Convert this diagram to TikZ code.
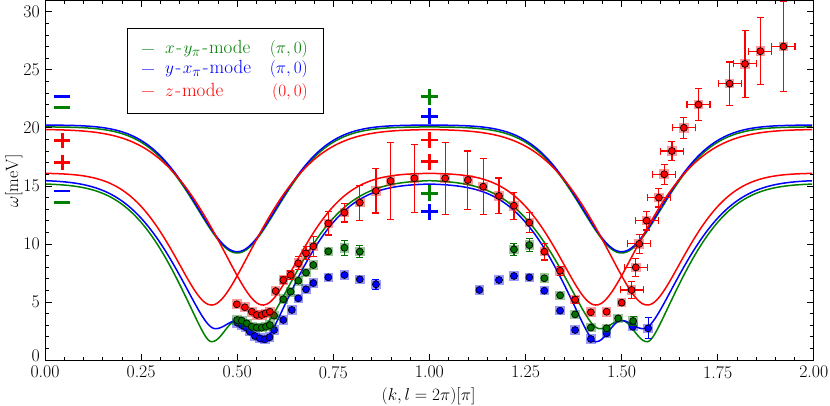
\documentclass[tikz,border=0pt]{standalone}
\usepackage{fontspec}
\definecolor{gline}{rgb}{0,0.5,0}
\definecolor{gfill}{rgb}{0,0.45,0}
\tikzset{
  curve/.style={line width=1.5pt},
  ebar/.style={line width=1.1pt},
  tick/.style={line width=0.7pt},
  lab/.style={font=\fontsize{17.8}{21}\selectfont, inner sep=0pt},
  leg/.style={font=\fontsize{19}{22}\selectfont, inner sep=0pt},
  pm/.style={line width=2.7pt},
}
\newcommand\dpt[4]{%
  \ifdim #4pt>0pt
    \draw[ebar,#1] (#2,{#3-#4}) -- (#2,{#3+#4});
    \draw[ebar,#1] (#2,{#3-#4}) ++(-3.5pt,0) -- ++(7pt,0);
    \draw[ebar,#1] (#2,{#3+#4}) ++(-3.5pt,0) -- ++(7pt,0);
  \fi
  \fill[#1,fill opacity=0.4] (#2,#3) ++(-4.8pt,-4.8pt) rectangle ++(9.6pt,9.6pt);
  \filldraw[fill=#1,draw=black,line width=0.7pt] (#2,#3) circle[radius=3.5pt];
}
\newcommand\dptx[5]{%
  \draw[ebar,#1] (#2,{#3-#4}) -- (#2,{#3+#4});
  \draw[ebar,#1] (#2,{#3-#4}) ++(-3.5pt,0) -- ++(7pt,0);
  \draw[ebar,#1] (#2,{#3+#4}) ++(-3.5pt,0) -- ++(7pt,0);
  \draw[ebar,#1] ({#2-#5},#3) -- ({#2+#5},#3);
  \draw[ebar,#1] ({#2-#5},#3) ++(0,-3.5pt) -- ++(0,7pt);
  \draw[ebar,#1] ({#2+#5},#3) ++(0,-3.5pt) -- ++(0,7pt);
  \fill[#1,fill opacity=0.4] (#2,#3) ++(-4.8pt,-4.8pt) rectangle ++(9.6pt,9.6pt);
  \filldraw[fill=#1,draw=black,line width=0.7pt] (#2,#3) circle[radius=3.5pt];
}
\begin{document}
\begin{tikzpicture}[x=1pt,y=1pt,
  declare function={
    hh(\d,\s) = 1 - exp(-(\d/\s)*(\d/\s));
    br(\d,\D,\S,\s) = sqrt(\D*\D + (\S*\S - \D*\D)*hh(\d,\s));
    redA(\m) = (\m < 0.433) ? br(0.433-\m,4.74,16.1,0.18) : br(\m-0.433,4.74,19.87,0.23);
    Lone(\m) = (\m < 0.434) ? br(0.434-\m,1.58,15.2,0.191) : (1.58+0.91*(1-cos(180*(\m-0.434)/0.066)));
    Ltwo(\m) = (\m < 0.444) ? br(0.444-\m,2.7,15.5,0.2) : (2.7+0.35*(1-cos(180*(\m-0.444)/0.056)));
    gLow(\m) = (\m < 0.5) ? Lone(\m) : Ltwo(1-\m);
    bLow(\m) = (\m < 0.5) ? Ltwo(\m) : Lone(1-\m);
    btop(\m) = br(abs(\m-0.5),9.33,20.24,0.185);
    gtop(\m) = br(abs(\m-0.5),9.22,20.08,0.185);
  }]
\useasboundingbox (0,0) rectangle (830,405);
\fill[white] (0,0) rectangle (830,405);
\begin{scope}[shift={(45,45)}, x=384.4pt, y=11.61pt]
  % theory curves
  \begin{scope}
    \clip (0,0) rectangle (2,31);
    \draw[curve,gline] plot[domain=0:2,samples=401] (\x,{gtop(1-abs(1-\x))});
    \draw[curve,blue] plot[domain=0:2,samples=401] (\x,{btop(1-abs(1-\x))});
    \draw[curve,red] plot[domain=0:2,samples=401] (\x,{redA(1-abs(1-\x))});
    \draw[curve,red] plot[domain=0:2,samples=401] (\x,{redA(abs(1-\x))});
    \draw[curve,gline] plot[domain=0:2,samples=401] (\x,{gLow(1-abs(1-\x))});
    \draw[curve,blue] plot[domain=0:2,samples=401] (\x,{bLow(1-abs(1-\x))});
  \end{scope}
  % data
  \foreach \k/\w/\e in {0.500/3.21/0, 0.512/3.0/0, 0.522/2.82/0, 0.533/2.44/0, 0.546/2.07/0, 0.559/1.87/0, 0.572/1.78/0, 0.584/1.96/0, 0.596/2.58/0, 0.620/3.45/0, 0.642/4.31/0, 0.659/5.31/0, 0.679/6.09/0, 0.698/6.63/0, 0.737/7.12/0, 0.779/7.32/0, 0.819/6.95/0, 0.861/6.52/0.45, 1.130/6.03/0, 1.181/6.89/0, 1.220/7.24/0, 1.260/7.12/0, 1.299/5.97/0, 1.340/4.25/0, 1.379/2.58/0, 1.420/1.81/0, 1.461/2.30/0, 1.529/2.87/0, 1.569/2.73/0.9}
    {\dpt{blue}{\k}{\w}{\e}}
  \foreach \k/\w/\e in {0.500/3.45/0, 0.512/3.39/0, 0.525/3.16/0, 0.538/2.87/0, 0.551/2.79/0, 0.564/2.79/0, 0.575/2.87/0, 0.585/3.01/0, 0.596/3.82/0, 0.620/5.23/0, 0.639/5.88/0, 0.659/6.83/0, 0.679/7.52/0, 0.698/8.18/0, 0.737/9.36/0, 0.779/9.67/0.65, 0.819/9.33/0.5, 1.220/9.53/0.5, 1.260/9.9/0.55, 1.299/7.04/0, 1.340/5.57/0, 1.379/3.93/0, 1.420/2.79/0, 1.461/2.73/0, 1.491/3.59/0, 1.530/3.36/0.4}
    {\dpt{gfill}{\k}{\w}{\e}}
  \foreach \k/\w/\e in {0.499/4.80/0, 0.520/4.54/0, 0.538/4.16/0, 0.551/3.88/0, 0.564/3.88/0, 0.574/4.02/0, 0.585/4.16/0, 0.600/5.94/0, 0.620/6.89/0.3, 0.639/7.32/0.35, 0.659/8.33/0.57, 0.679/9.19/0.57, 0.698/9.79/0.86, 0.737/11.77/1.0, 0.779/12.69/0.8, 0.819/13.55/1.5, 0.861/14.56/1.9, 0.899/15.42/3.3, 0.961/15.65/2.95, 1.041/15.65/3.1, 1.100/15.5/2.5, 1.140/14.93/2.4, 1.181/14.13/1.55, 1.220/13.29/1.15, 1.260/11.83/0.86, 1.299/9.33/0.72, 1.340/7.69/0.4, 1.379/5.2/0.3, 1.420/4.11/0, 1.461/4.16/0, 1.500/4.94/0}
    {\dpt{red}{\k}{\w}{\e}}
  \foreach \k/\w/\e in {1.526/6.03/0.7, 1.537/7.98/0.8, 1.546/10.0/0.8, 1.565/12.0/0.8, 1.597/13.98/0.8, 1.611/16.0/0.85, 1.631/18.0/0.85, 1.662/20.0/0.9, 1.700/22.0/1.4, 1.781/23.8/1.87, 1.821/25.5/2.9, 1.861/26.6/2.9, 1.921/27.0/3.9}
    {\dptx{red}{\k}{\w}{\e}{0.030}}
  % markers at k=0.045
  \draw[pm,blue] (0.045,22.68) ++(-8pt,0) -- ++(16pt,0);
  \draw[pm,gline] (0.045,21.77) ++(-8pt,0) -- ++(16pt,0);
  \draw[pm,red] (0.045,18.89) ++(-8pt,0) -- ++(16pt,0) (0.045,18.89) ++(0,-7.5pt) -- ++(0,15pt);
  \draw[pm,red] (0.045,17.03) ++(-8pt,0) -- ++(16pt,0) (0.045,17.03) ++(0,-7.5pt) -- ++(0,15pt);
  \draw[pm,blue] (0.045,14.56) ++(-8pt,0) -- ++(16pt,0);
  \draw[pm,gline] (0.045,13.58) ++(-8pt,0) -- ++(16pt,0);
  % markers at k=1
  \foreach \w/\c in {22.68/gline, 21.0/blue, 18.95/red, 17.08/red, 14.36/gline, 12.77/blue}
    {\draw[pm,\c] (1,\w) ++(-8.5pt,0) -- ++(17pt,0) (1,\w) ++(0,-8pt) -- ++(0,16pt);}
  % frame and ticks
  \draw[line width=0.8pt] (0,0) rectangle (2,31);
  \foreach \i in {1,...,39} {
    \draw[tick] (\i*0.05,0) -- ++(0,3.5pt);
    \draw[tick] (\i*0.05,31) -- ++(0,-3.5pt);
  }
  \foreach \i in {1,...,7} {
    \draw[tick] (\i*0.25,0) -- ++(0,6.5pt);
    \draw[tick] (\i*0.25,31) -- ++(0,-6.5pt);
  }
  \foreach \j in {1,...,30} {
    \draw[tick] (0,\j) -- ++(3.5pt,0);
    \draw[tick] (2,\j) -- ++(-3.5pt,0);
  }
  \foreach \j in {5,10,...,30} {
    \draw[tick] (0,\j) -- ++(6.5pt,0);
    \draw[tick] (2,\j) -- ++(-6.5pt,0);
  }
  \foreach \i/\t in {0/0.00,1/0.25,2/0.50,3/0.75,4/1.00,5/1.25,6/1.50,7/1.75,8/2.00}
    {\node[lab,anchor=north] (xt\i) at ([yshift=-6pt]\i*0.25,0) {\t};}
  \foreach \j in {5,10,15,20,25,30}
    {\node[lab,anchor=east] (yt\j) at ([xshift=-5pt]0,\j) {\j};}
  \node[lab,anchor=east] (yt0) at ([xshift=-5pt,yshift=4.5pt]0,0) {0};
\end{scope}
% axis labels
\node[lab,anchor=base] (xlab) at (428.5,5) {$(k,l=2\pi)[\pi]$};
\node[lab,anchor=base,rotate=90] (ylab) at (18,224) {$\omega[\mathrm{meV}]$};
% legend
\draw[line width=0.8pt,fill=white] (127.3,291.7) rectangle (323,376.7);
\draw[gline,line width=1pt,opacity=0.6] (142.3,355.5) -- (154.3,355.5);
\draw[blue,line width=1pt,opacity=0.6] (142.3,335.2) -- (154.3,335.2);
\draw[red,line width=1pt,opacity=0.6] (142.3,313) -- (154.3,313);
\node[leg,anchor=base west,text=gline] (l1) at (165,351.5) {$x$\kern1.5pt-\kern1.5pt$y_{\pi}$\kern1.5pt-\kern1pt mode};
\node[leg,anchor=base east,text=gline] (l1b) at (308,351.5) {$(\pi,0)$};
\node[leg,anchor=base west,text=blue] (l2) at (165,331) {$y$\kern1.5pt-\kern1.5pt$x_{\pi}$\kern1.5pt-\kern1pt mode};
\node[leg,anchor=base east,text=blue] (l2b) at (308,331) {$(\pi,0)$};
\node[leg,anchor=base west,text=red] (l3) at (165,308.8) {$z$\kern1.5pt-\kern1pt mode};
\node[leg,anchor=base east,text=red] (l3b) at (308,308.8) {$(0,0)$};
\end{tikzpicture}
\end{document}
